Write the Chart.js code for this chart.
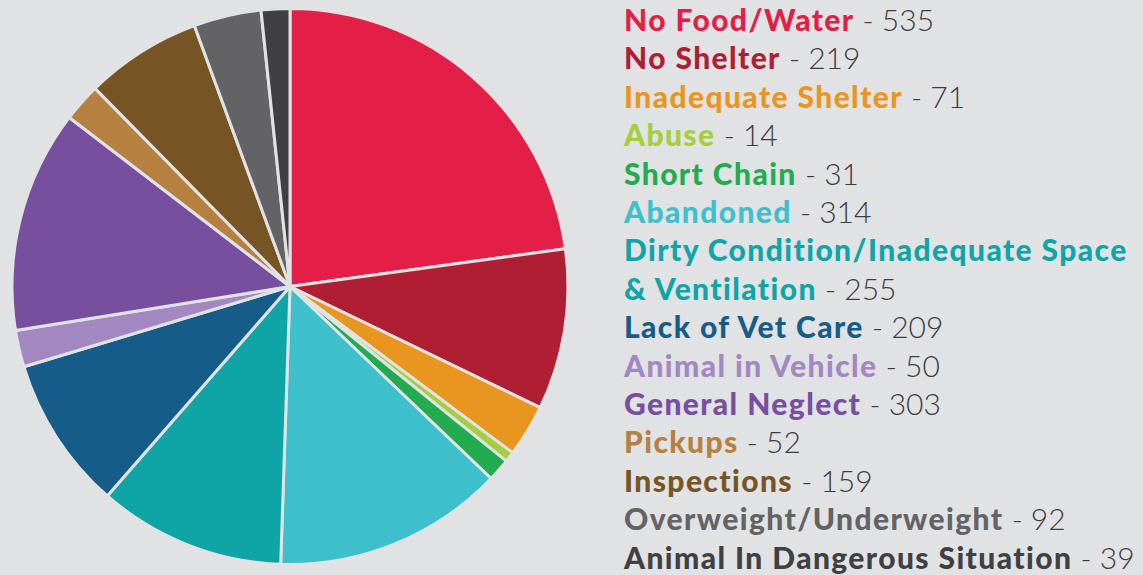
<!DOCTYPE html>
<html>
<head>
<meta charset="utf-8">
<script src="https://cdn.jsdelivr.net/npm/chart.js@4/dist/chart.umd.min.js"></script>
<style>
  html, body { margin: 0; padding: 0; background: #e1e2e4; }
  body { width: 1143px; height: 575px; position: relative; overflow: hidden; }
  #pie-wrap { position: absolute; left: 0; top: 0; width: 580px; height: 575px; }
  #legend {
    position: absolute; left: 624px; top: 0px;
    font-family: Lato, "Open Sans", sans-serif;
    font-size: 30px; line-height: 38.4px; white-space: nowrap;
  }
  #legend .lbl { font-weight: 900; letter-spacing: 1.4px; }
  #legend .val { font-weight: 300; color: #3d3d40; }
</style>
</head>
<body>
<div id="pie-wrap"><canvas id="myChart" width="580" height="575"></canvas></div>
<div id="legend"></div>
<script>
const labels = [
  'No Food/Water', 'No Shelter', 'Inadequate Shelter', 'Abuse', 'Short Chain',
  'Abandoned', 'Dirty Condition/Inadequate Space\n& Ventilation', 'Lack of Vet Care',
  'Animal in Vehicle', 'General Neglect', 'Pickups', 'Inspections',
  'Overweight/Underweight', 'Animal In Dangerous Situation'
];
const counts = [535, 219, 71, 14, 31, 314, 255, 209, 50, 303, 52, 159, 92, 39];
const colors = [
  '#e31f48', '#b01e34', '#e8961f', '#a5cd3c', '#22ac4f',
  '#3ec0cc', '#0fa5a6', '#155d88', '#a287c0', '#774f9e',
  '#b58040', '#775424', '#636365', '#404042'
];

let ctx = document.getElementById('myChart').getContext('2d');

new Chart(ctx, {
    type: 'pie',
    data: {
        labels: labels,
        datasets: [{
            data: counts,
            backgroundColor: colors,
            borderColor: '#e1e2e4',
            borderWidth: 3
        }]
    },
    options: {
        responsive: false,
        animation: false,
        events: [],
        layout: { padding: { top: 7, bottom: 9 } },
        plugins: {
            legend: { display: false },
            tooltip: { enabled: false }
        }
    }
});

// text legend on the right
let legend = document.getElementById('legend');
labels.forEach((name, i) => {
    let parts = name.split('\n');
    parts.forEach((p, j) => {
        let line = document.createElement('div');
        let lbl = document.createElement('span');
        lbl.className = 'lbl';
        lbl.style.color = colors[i];
        lbl.textContent = p;
        line.appendChild(lbl);
        if (j === parts.length - 1) {
            let val = document.createElement('span');
            val.className = 'val';
            val.textContent = ' - ' + counts[i];
            line.appendChild(val);
        }
        legend.appendChild(line);
    });
});
</script>
</body>
</html>
